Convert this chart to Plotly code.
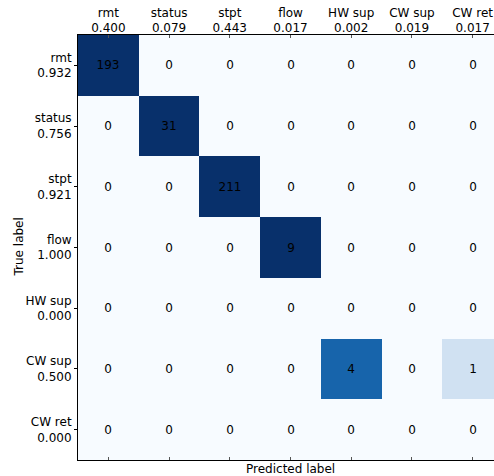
import plotly.graph_objects as go

classes = ["rmt", "status", "stpt", "flow", "HW sup", "CW sup", "CW ret"]
precision = ["0.400", "0.079", "0.443", "0.017", "0.002", "0.019", "0.017"]
recall = ["0.932", "0.756", "0.921", "1.000", "0.000", "0.500", "0.000"]
counts = [
    [193, 0, 0, 0, 0, 0, 0],
    [0, 31, 0, 0, 0, 0, 0],
    [0, 0, 211, 0, 0, 0, 0],
    [0, 0, 0, 9, 0, 0, 0],
    [0, 0, 0, 0, 0, 0, 0],
    [0, 0, 0, 0, 4, 0, 1],
    [0, 0, 0, 0, 0, 0, 0],
]

# row-normalised values drive the colour
norm = []
for row in counts:
    s = sum(row)
    norm.append([v / s if s else 0.0 for v in row])

blues = ["#f7fbff", "#deebf7", "#c6dbef", "#9ecae1", "#6baed6",
         "#4292c6", "#2171b5", "#08519c", "#08306b"]
cscale = [[i / 8, c] for i, c in enumerate(blues)]

n = len(classes)
idx = list(range(n))
font = "DejaVu Sans, sans-serif"
fs = 12

fig = go.Figure(go.Heatmap(
    z=norm, x=idx, y=idx, colorscale=cscale, zmin=0, zmax=1,
    showscale=False, text=[[str(v) for v in r] for r in counts],
    texttemplate="%{text}", textfont=dict(color="black", size=fs, family=font),
    hoverinfo="skip", xgap=0, ygap=0,
))

W, H = 494, 476
ml, mr, mt, mb = 78, 0, 35, 16
cell = (H - mt - mb) / n
xmax = -0.5 + (W - ml - mr) / cell

fig.update_layout(
    width=W, height=H, margin=dict(l=ml, r=mr, t=mt, b=mb, autoexpand=False),
    paper_bgcolor="white", plot_bgcolor="white",
    font=dict(family=font, size=fs, color="black"),
    xaxis=dict(
        side="top", range=[-0.5, xmax], tickvals=idx,
        ticktext=[f"{c}<br>{p}" for c, p in zip(classes, precision)],
        ticks="inside", ticklen=3, tickcolor="#555", showline=True,
        linecolor="black", linewidth=1, mirror="allticks", showgrid=False,
        zeroline=False, tickfont=dict(size=fs), automargin=False,
        ticklabelstandoff=-3,
    ),
    yaxis=dict(
        range=[n - 0.5, -0.5], tickvals=idx,
        ticktext=[f"{c}<br>{r}" for c, r in zip(classes, recall)],
        ticks="outside", ticklen=3, tickcolor="black", showline=True,
        linecolor="black", linewidth=1, mirror=False, showgrid=False,
        zeroline=False, tickfont=dict(size=fs), automargin=False,
    ),
    annotations=[
        dict(text="Predicted label", xref="paper", yref="paper",
             x=(n * cell / 2) / (W - ml), y=0, yshift=-9,
             showarrow=False, xanchor="center", yanchor="middle",
             font=dict(size=fs)),
        dict(text="True label", xref="paper", yref="paper", x=0, xshift=-60,
             y=0.5, textangle=-90, showarrow=False, xanchor="center",
             yanchor="middle", font=dict(size=fs)),
    ],
)

fig.write_html("out.html", config={"displayModeBar": False},
               post_script="document.body.style.margin='0';")
